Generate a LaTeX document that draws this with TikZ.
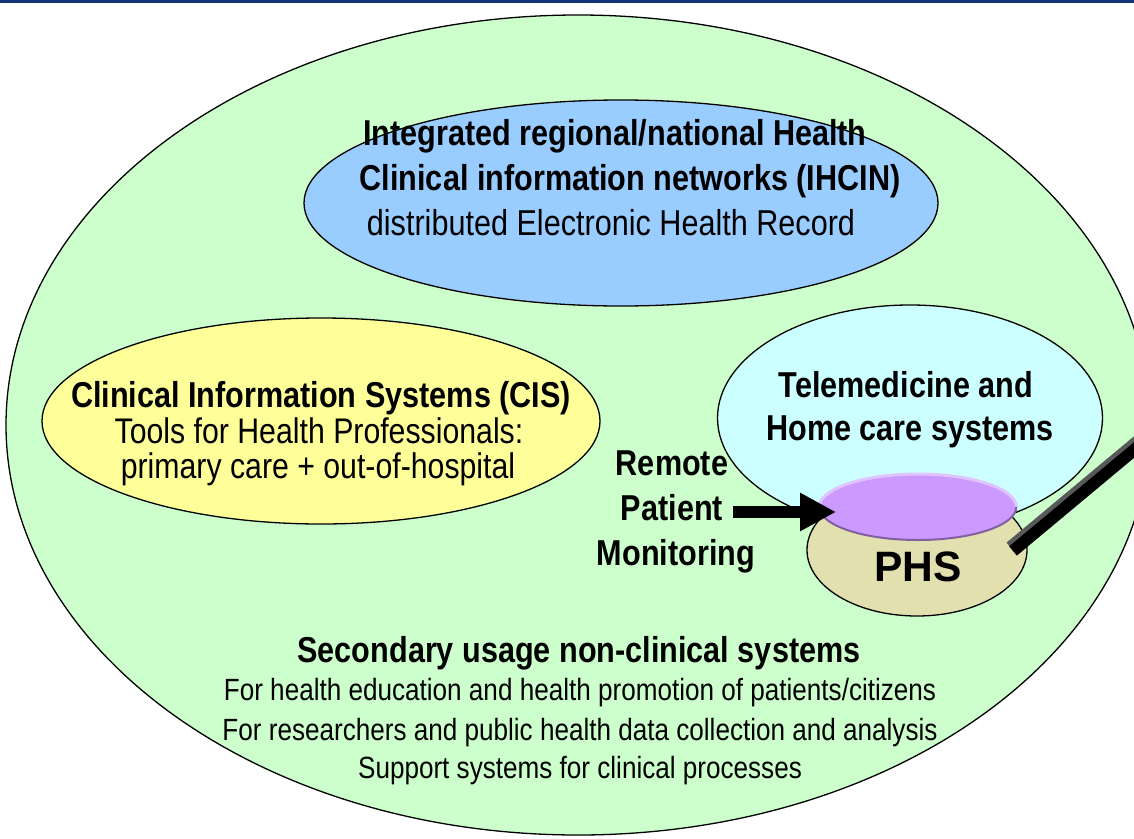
\documentclass[tikz,border=0pt]{standalone}
\usepackage{fontspec}
\setmainfont{Liberation Sans}[FakeStretch=0.85]
\newfontfamily\widefont{Liberation Sans}
\usetikzlibrary{shapes.geometric,arrows.meta}
\definecolor{greenF}{RGB}{204,255,204}
\definecolor{blueF}{RGB}{153,204,255}
\definecolor{yellowF}{RGB}{255,255,153}
\definecolor{cyanF}{RGB}{204,255,255}
\definecolor{tanF}{RGB}{227,224,176}
\definecolor{purpleF}{RGB}{204,153,255}
\definecolor{purpleL}{RGB}{224,196,255}
\definecolor{purpleD}{RGB}{128,96,160}
\definecolor{navyL}{RGB}{18,52,118}
\tikzset{
  ell/.style={ellipse, draw=black, line width=1.3pt, inner sep=0pt},
  bigb/.style={inner sep=0pt, text height=26pt, text depth=7.5pt, font=\fontsize{36}{40}\selectfont\bfseries},
  bigr/.style={inner sep=0pt, text height=26pt, text depth=7.5pt, font=\fontsize{36}{40}\selectfont},
  midb/.style={inner sep=0pt, text height=26pt, text depth=7.5pt, font=\fontsize{36}{40}\selectfont\bfseries},
  midr/.style={inner sep=0pt, text height=26pt, text depth=7.5pt, font=\fontsize{35.6}{40}\selectfont},
  smr/.style={inner sep=0pt, text height=22pt, text depth=6.5pt, font=\fontsize{30.7}{34}\selectfont},
  phsb/.style={inner sep=0pt, text height=31pt, text depth=0pt, font=\widefont\fontsize{42.5}{46}\selectfont\bfseries},
}
\begin{document}
\begin{tikzpicture}[x=1pt,y=-1pt]
\useasboundingbox (0,0) rectangle (1134,838);
\clip (0,0) rectangle (1134,838);
\fill[white] (0,0) rectangle (1134,838);
\fill[navyL] (0,0) rectangle (1134,3);
% ellipses
\node[ell, fill=greenF, minimum width=1144pt, minimum height=820pt] (green) at (578,425) {};
\node[ell, fill=blueF, minimum width=634pt, minimum height=206pt] (blue) at (621,203) {};
\node[ell, fill=yellowF, minimum width=558pt, minimum height=206pt] (yellow) at (321,421) {};
\node[ell, fill=cyanF, minimum width=385pt, minimum height=226pt] (cyan) at (910,418) {};
\node[ell, fill=tanF, minimum width=220pt, minimum height=132pt] (tan) at (917,550) {};
\node[ellipse, fill=purpleF, inner sep=0pt, minimum width=197pt, minimum height=66pt] (purple) at (918,507) {};
\draw[purpleL, line width=3pt] (purple.west) arc[start angle=180, end angle=0, x radius=98.5pt, y radius=33pt];
\draw[purpleD, line width=2pt] (purple.west) arc[start angle=180, end angle=360, x radius=98.5pt, y radius=33pt];
% texts
\node[bigb] (ih1) at (615,136) {Integrated regional/national Health};
\node[bigb] (ih2) at (630,181) {Clinical information networks (IHCIN)};
\node[bigr] (ih3) at (611,226) {distributed Electronic Health Record};
\node[midb] (cis1) at (321,398) {Clinical Information Systems (CIS)};
\node[midr] (cis2) at (319,434) {Tools for Health Professionals:};
\node[midr] (cis3) at (318,469) {primary care + out-of-hospital};
\node[midb] (tel1) at (906,388) {Telemedicine and};
\node[midb] (tel2) at (910,431) {Home care systems};
\node[midb] (rpm1) at (672,466) {Remote};
\node[midb] (rpm2) at (672,511) {Patient};
\node[midb] (rpm3) at (676,556) {Monitoring};
\node[phsb] (phs) at (918,566) {PHS};
\node[bigb] (sec0) at (579,653) {Secondary usage non-clinical systems};
\node[smr] (sec1) at (580,693) {For health education and health promotion of patients/citizens};
\node[smr] (sec2) at (580,733) {For researchers and public health data collection and analysis};
\node[smr] (sec3) at (580,771) {Support systems for clinical processes};
% arrow
\coordinate (arrS) at (733,512);
\coordinate (arrE) at (836,512);
\draw[line width=12pt, -{Triangle[length=36pt,width=36pt]}] (arrS) -- (arrE);
% stick
\coordinate (stA) at (1013,551);
\coordinate (stB) at (1200,395);
\draw[gray!70!black, line width=14pt] ([shift={(-2,-3)}]stA) -- ([shift={(-2,-3)}]stB);
\draw[black, line width=12pt] (stA) -- (stB);
\end{tikzpicture}
\end{document}
